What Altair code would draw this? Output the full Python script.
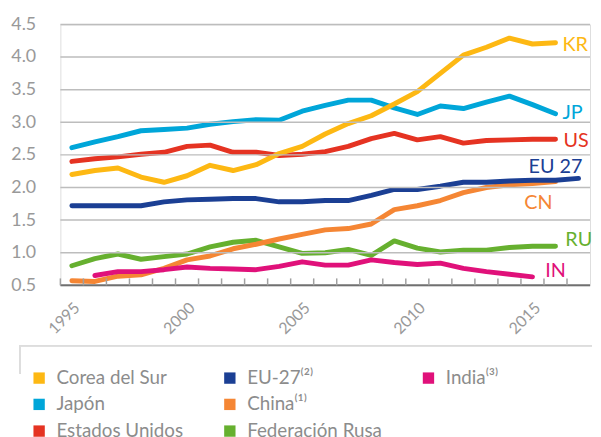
import altair as alt
import pandas as pd

years = list(range(1995, 2018))
kr = [2.20, 2.26, 2.30, 2.16, 2.08, 2.18, 2.34, 2.26, 2.35, 2.52, 2.63, 2.82, 2.98, 3.10, 3.28, 3.47, 3.75, 4.03, 4.15, 4.29, 4.20, 4.22, None]
jp = [2.61, 2.70, 2.78, 2.87, 2.89, 2.91, 2.97, 3.01, 3.04, 3.03, 3.17, 3.26, 3.34, 3.34, 3.22, 3.12, 3.25, 3.21, 3.31, 3.40, 3.27, 3.13, None]
us = [2.40, 2.44, 2.47, 2.51, 2.54, 2.63, 2.65, 2.54, 2.54, 2.49, 2.51, 2.55, 2.63, 2.75, 2.83, 2.73, 2.78, 2.68, 2.72, 2.73, 2.74, 2.74, None]
eu = [1.72, 1.72, 1.72, 1.72, 1.78, 1.81, 1.82, 1.83, 1.83, 1.78, 1.78, 1.80, 1.80, 1.88, 1.97, 1.97, 2.02, 2.08, 2.08, 2.10, 2.11, 2.11, 2.14]
cn = [0.57, 0.56, 0.64, 0.66, 0.76, 0.89, 0.95, 1.06, 1.13, 1.21, 1.28, 1.35, 1.37, 1.44, 1.66, 1.72, 1.80, 1.92, 2.00, 2.04, 2.06, 2.09, None]
ru = [0.80, 0.91, 0.98, 0.90, 0.94, 0.98, 1.09, 1.16, 1.19, 1.09, 0.99, 1.00, 1.05, 0.96, 1.18, 1.07, 1.01, 1.04, 1.04, 1.08, 1.10, 1.10, None]
india = [None, 0.65, 0.71, 0.71, 0.74, 0.78, 0.76, 0.75, 0.74, 0.79, 0.86, 0.81, 0.81, 0.89, 0.85, 0.82, 0.84, 0.76, 0.71, 0.67, 0.63, None, None]

names = ["Federación Rusa", "China⁽¹⁾", "India⁽³⁾", "EU-27⁽²⁾", "Estados Unidos", "Japón", "Corea del Sur"]
codes = ["RU", "CN", "IN", "EU 27", "US", "JP", "KR"]
colors = ["#66B02F", "#F58634", "#E0117A", "#1B3F94", "#E53322", "#00A6D9", "#FDB813"]
series = [ru, cn, india, eu, us, jp, kr]

# legend entries in column order (3 rows x 3 columns, two empty slots)
legend_order = ["Corea del Sur", "Japón", "Estados Unidos", "EU-27⁽²⁾", "China⁽¹⁾",
                "Federación Rusa", "India⁽³⁾", " ", "  "]
label_years = [1995, 2000, 2005, 2010, 2015]
y_ticks = [0.5, 1.0, 1.5, 2.0, 2.5, 3.0, 3.5, 4.0, 4.5]

W, H = 536, 264
FONT = "Lato"
GRAY = "#999999"
XDOM = [1994.5, 2017.5]

rows = []
for name, code, vals in zip(names, codes, series):
    for yr, v in zip(years, vals):
        if v is not None:
            rows.append({"series": name, "code": code, "year": yr, "value": v})
df = pd.DataFrame(rows)
last = df.loc[df.groupby("series")["year"].idxmax()].reset_index(drop=True)

grid_df = pd.DataFrame({"v": y_ticks[1:]})
base_df = pd.DataFrame({"v": y_ticks[:1]})
ticks_df = pd.DataFrame({"pos": [y - 0.5 for y in years]})

cmap = dict(zip(names, colors))
cmap[" "] = "#ffffff"
cmap["  "] = "#ffffff"
legend_colors = [cmap[n] for n in legend_order]


def xs():
    return alt.Scale(domain=XDOM, nice=False, zero=False)


yscale = alt.Scale(domain=[0.5, 4.5], nice=False, zero=False)
yaxis = alt.Axis(values=y_ticks, format=".1f", grid=False,
                 domain=False, ticks=False, labelPadding=25, labelFontSize=18, labelOverlap=False,
                 labelColor=GRAY, labelFont=FONT, title=None)

# horizontal grid lines, drawn as rules across the plot width
grid = alt.Chart(grid_df).mark_rule(stroke="#bdbdbd", strokeWidth=1.5, opacity=1).encode(
    y=alt.Y("v:Q", scale=yscale, axis=yaxis),
)
base_line = alt.Chart(base_df).mark_rule(stroke="#707070", strokeWidth=2, opacity=1).encode(
    y=alt.Y("v:Q", scale=yscale, axis=yaxis),
)
tick_marks = alt.Chart(ticks_df).mark_rule(stroke="#a0a0a0", strokeWidth=1.5, opacity=1).encode(
    x=alt.X("pos:Q", scale=xs(), axis=None),
    y=alt.value(H - 7), y2=alt.value(H),
)

lines = alt.Chart(df).mark_line(strokeWidth=5, strokeCap="round", strokeJoin="round").encode(
    x=alt.X("year:Q", scale=xs(), axis=None),
    y=alt.Y("value:Q", scale=yscale, axis=yaxis),
    color=alt.Color("series:N", sort=None,
                    scale=alt.Scale(domain=legend_order, range=legend_colors),
                    legend=alt.Legend(orient="none", legendX=-31, legendY=348, columns=3,
                                      direction="vertical", title=None,
                                      symbolType="square", symbolSize=30, symbolStrokeWidth=6,
                                      labelFontSize=19, labelColor="#8c8c8c", labelFont=FONT,
                                      rowPadding=-4, columnPadding=31, labelOffset=8,
                                      gridAlign="each")),
)

label_cfg = {
    "KR": dict(dx=7, dy=2, align="left"),
    "JP": dict(dx=7, dy=-1, align="left"),
    "US": dict(dx=8, dy=2, align="left"),
    "EU 27": dict(dx=4, dy=-11, align="right"),
    "CN": dict(dx=-3, dy=22, align="right"),
    "RU": dict(dx=10, dy=-6, align="left"),
    "IN": dict(dx=13, dy=-6, align="left"),
}

texts = []
for code, cfg in label_cfg.items():
    t = alt.Chart(last).transform_filter(alt.datum.code == code).mark_text(
        fontSize=20, font=FONT, baseline="middle", **cfg
    ).encode(
        x=alt.X("year:Q", scale=xs(), axis=None),
        y=alt.Y("value:Q", scale=yscale, axis=yaxis),
        text="code:N",
        color=alt.Color("series:N", legend=None),
    )
    texts.append(t)

hline = alt.Chart(df).mark_rule(color="#dddddd", strokeWidth=1.2).encode(
    x=alt.value(-41), x2=alt.value(538), y=alt.value(325))
vline = alt.Chart(df).mark_rule(color="#dddddd", strokeWidth=1.2).encode(
    x=alt.value(-41), y=alt.value(325), y2=alt.value(353))

label_axis = alt.Chart(pd.DataFrame({"yr": label_years})).mark_point(opacity=0).encode(
    x=alt.X("yr:Q", scale=xs(),
            axis=alt.Axis(orient="bottom", values=label_years, format="d", labelAngle=315,
                          labelAlign="right", labelBaseline="middle", ticks=False, domain=False,
                          grid=False, labelPadding=20, labelOffset=5, labelFontSize=16,
                          labelColor=GRAY, labelFont=FONT, title=None)),
)

chart = alt.layer(lines, grid, base_line, tick_marks, *texts, hline, vline, label_axis).resolve_axis(
    x="independent"
).properties(
    width=W, height=H, padding={"left": 2, "top": 5, "right": 0, "bottom": 0}
).configure_view(strokeWidth=0).configure(font=FONT)

chart.save("out.html", embed_options={"renderer": "svg", "actions": False})
